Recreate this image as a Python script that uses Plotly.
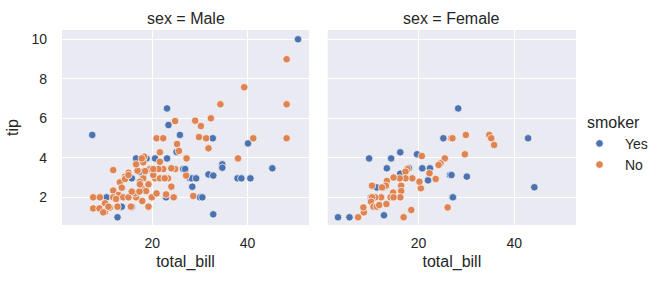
import plotly.graph_objects as go

# ---------------- data ----------------
male_yes_bill = [7.4, 23.1, 23.4, 25.8, 12.7, 16.6, 15.7, 23.1, 20.6, 26.5, 27.9, 13.6, 10.4, 15.7,
                 22.9, 18.8, 25.1, 18.1, 17.4, 50.6, 40.1, 32.7, 34.7, 34.7, 45.2, 31.8, 32.8, 37.9,
                 38.7, 40.6, 28.3, 29.2, 28.4, 26.9, 30.0, 30.5, 32.8]
male_yes_tip = [5.16, 6.5, 5.66, 5.16, 0.99, 3.97, 2.96, 3.97, 3.97, 3.43, 2.96, 1.53, 2.0, 1.53,
                2.0, 3.97, 4.3, 3.05, 3.3, 10.0, 4.73, 4.99, 3.67, 3.5, 3.47, 3.16, 3.1, 2.96,
                2.96, 2.96, 2.96, 2.96, 2.54, 3.43, 2.0, 2.0, 1.14]

male_no_bill = [24.8, 20.9, 22.3, 25.2, 25.6, 21.6, 27.1, 11.8, 15.0, 14.3, 13.2, 13.6, 11.8, 12.9,
                7.6, 7.6, 9.0, 8.9, 10.1, 10.1, 11.1, 12.7, 11.8, 13.9, 15.0, 16.6, 15.5, 17.9,
                19.2, 19.9, 20.9, 22.9, 24.5, 24.0, 23.3, 24.8, 24.0, 22.3, 21.3, 20.6, 21.6, 22.6,
                19.5, 20.2, 18.1, 18.5, 17.4, 17.8, 18.7, 16.4, 17.3, 16.9, 18.1, 16.6, 18.3, 17.8,
                14.3, 15.0, 17.4, 19.2, 21.6, 20.2, 15.7, 12.4, 10.8, 9.7,
                48.2, 39.3, 48.2, 34.3, 29.0, 30.2, 32.3, 29.8, 31.3, 41.2, 48.2, 31.8, 38.0,
                27.2, 27.1, 28.6]
male_no_tip = [5.86, 4.99, 4.99, 4.7, 4.35, 4.28, 4.0, 3.38, 3.25, 3.05, 2.76, 2.49, 2.34, 2.12,
               2.0, 1.44, 2.0, 1.44, 1.7, 1.27, 1.48, 1.53, 2.0, 2.0, 2.0, 2.0, 1.53, 1.81,
               1.53, 2.0, 2.2, 2.15, 2.0, 2.54, 2.96, 3.43, 3.47, 3.43, 3.43, 2.96, 2.96, 2.96,
               3.43, 3.13, 2.96, 3.33, 2.79, 2.46, 2.32, 2.2, 2.29, 3.35, 3.77, 3.67, 4.06, 3.97,
               2.93, 3.13, 2.66, 2.66, 3.8, 3.43, 2.29, 1.92, 1.53, 1.24,
               8.99, 7.57, 6.71, 6.71, 5.88, 5.61, 6.0, 5.05, 4.99, 4.99, 4.99, 4.48, 3.97,
               3.97, 3.1, 2.07]

female_yes_bill = [3.2, 5.6, 12.8, 9.7, 13.4, 14.3, 16.2, 19.7, 25.2, 22.4, 20.8, 22.0, 26.6, 27.1,
                   11.3, 12.7, 16.2, 18.0, 10.1, 28.3, 42.9, 44.2, 26.9, 30.1, 27.2]
female_yes_tip = [0.99, 0.99, 1.09, 3.97, 3.47, 3.97, 4.28, 4.18, 4.99, 3.47, 3.47, 2.86, 3.13, 2.0,
                  2.5, 2.5, 3.2, 3.47, 2.0, 6.5, 4.99, 2.51, 3.13, 3.05, 2.0]

female_no_bill = [7.4, 8.6, 8.5, 16.9, 18.5, 26.1, 26.8, 20.7, 25.5, 24.6, 24.2, 22.3, 23.6, 20.5,
                  20.2, 17.7, 17.3, 18.7, 17.3, 16.1, 14.8, 13.4, 13.2, 12.4, 10.3, 16.4, 16.4, 14.7,
                  14.2, 13.3, 12.2, 11.0, 10.3, 10.1, 10.6, 11.3, 11.8, 16.2, 14.8,
                  27.1, 29.9, 34.8, 35.2, 35.8, 29.7]
female_no_tip = [0.99, 1.24, 1.49, 0.99, 1.36, 1.49, 4.99, 4.09, 3.97, 3.72, 3.64, 3.22, 2.93, 2.46,
                 2.79, 3.43, 3.3, 2.96, 2.96, 2.96, 3.0, 2.83, 2.59, 2.5, 2.59, 2.59, 2.32, 2.24,
                 2.0, 1.66, 2.0, 2.0, 2.0, 1.78, 1.53, 1.53, 1.61, 2.0, 2.0,
                 4.99, 5.16, 5.16, 4.99, 4.65, 4.18]

x_ticks = [20, 40]
y_ticks = [2, 4, 6, 8, 10]
panel_titles = ["sex = Male", "sex = Female"]
hue_names = ["Yes", "No"]

# ---------------- style ----------------
W, H = 665, 284
BLUE = "#4C72B0"
ORANGE = "#DD8452"
BG = "#EAEAF2"
TXT = "#262626"
FONT = "Liberation Sans"
LAB = 16
TICK = 14

def fx(p):
    return p / W

def fy(p):
    return 1 - p / H

fig = go.Figure()

def add(x, y, color, name, xa, ya, show):
    fig.add_trace(go.Scatter(
        x=x, y=y, mode="markers", name=name, legendgroup=name, showlegend=show,
        xaxis=xa, yaxis=ya,
        marker=dict(color=color, size=7.5, line=dict(color="white", width=0.7)),
    ))

add(male_yes_bill, male_yes_tip, BLUE, hue_names[0], "x", "y", True)
add(male_no_bill, male_no_tip, ORANGE, hue_names[1], "x", "y", True)
add(female_yes_bill, female_yes_tip, BLUE, hue_names[0], "x2", "y2", False)
add(female_no_bill, female_no_tip, ORANGE, hue_names[1], "x2", "y2", False)

xr = [1.05, 52.9]
yr = [0.6, 10.47]
ydom = [fy(225), fy(30)]

common_x = dict(range=xr, tickvals=x_ticks, showgrid=True, gridcolor="white", gridwidth=1,
                zeroline=False, showline=False, ticks="", ticklabelstandoff=8,
                tickfont=dict(family=FONT, size=TICK, color=TXT), automargin=False)
common_y = dict(range=yr, tickvals=y_ticks, showgrid=True, gridcolor="white", gridwidth=1,
                zeroline=False, showline=False, ticks="", domain=ydom,
                tickfont=dict(family=FONT, size=TICK, color=TXT), automargin=False)

xtitle = dict(text="total_bill", font=dict(size=LAB, family=FONT, color=TXT), standoff=5)

fig.update_layout(
    width=W, height=H,
    margin=dict(l=0, r=0, t=0, b=0),
    paper_bgcolor="white", plot_bgcolor=BG,
    font=dict(family=FONT, color=TXT),
    xaxis=dict(domain=[fx(62), fx(309)], anchor="y", title=xtitle, **common_x),
    xaxis2=dict(domain=[fx(327.7), fx(576)], anchor="y2", title=xtitle, **common_x),
    yaxis=dict(anchor="x", ticklabelstandoff=14,
               title=dict(text="tip", font=dict(size=LAB, family=FONT, color=TXT), standoff=8),
               **common_y),
    yaxis2=dict(anchor="x2", matches="y", showticklabels=False, **common_y),
    legend=dict(
        title=dict(text="smoker", font=dict(size=LAB, family=FONT, color=TXT), side="top center"),
        font=dict(size=TICK, family=FONT, color=TXT),
        x=fx(574), y=fy(107), xanchor="left", yanchor="top",
        bgcolor="rgba(0,0,0,0)", itemwidth=41, tracegroupgap=0,
    ),
    annotations=[
        dict(text=panel_titles[0], x=(fx(62) + fx(309)) / 2, y=fy(18), xref="paper", yref="paper",
             showarrow=False, xanchor="center", yanchor="middle",
             font=dict(size=LAB, family=FONT, color=TXT)),
        dict(text=panel_titles[1], x=(fx(327.7) + fx(576)) / 2, y=fy(18), xref="paper", yref="paper",
             showarrow=False, xanchor="center", yanchor="middle",
             font=dict(size=LAB, family=FONT, color=TXT)),
    ],
)

fig.write_html("out.html")
